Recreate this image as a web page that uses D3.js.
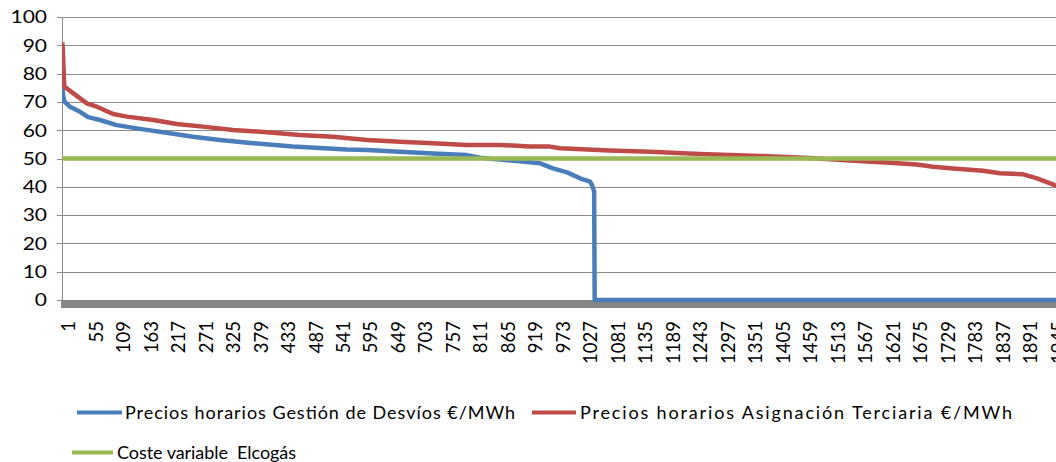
<!DOCTYPE html>
<html>
<head>
<meta charset="utf-8">
<script src="https://cdn.jsdelivr.net/npm/d3@7"></script>
<style>
  body { margin: 0; background: #ffffff; }
  svg { display: block; }
  text { font-family: Lato, "Open Sans", sans-serif; fill: #000; }
</style>
</head>
<body>
<svg id="chart" width="1056" height="462"></svg>
<script>
// Hourly price duration curves (hours ranked from highest to lowest price)
const hourCount = 1960;

// Precios horarios Gestión de Desvíos (€/MWh), by hour rank
const desviosRank  = [1, 3, 5, 16, 36, 52, 75, 108, 160, 206, 258, 311, 376, 454, 560, 600, 665, 729, 796, 822, 861, 900, 940, 965, 993, 1018, 1038, 1042, 1046, 1047, 1960];
const desviosPrice = [75.5, 72, 70.2, 68.3, 66.5, 64.6, 63.6, 61.8, 60.3, 59.1, 57.7, 56.5, 55.4, 54.2, 53.2, 53.0, 52.4, 51.8, 51.2, 50.3, 49.6, 49.0, 48.3, 46.5, 45.1, 43.0, 41.8, 40.5, 38.3, 0, 0];

// Precios horarios Asignación Terciaria (€/MWh), by hour rank
const terciariaRank  = [1, 2, 3, 5, 23, 49, 69, 101, 128, 180, 226, 291, 336, 403, 468, 533, 600, 665, 729, 796, 861, 920, 959, 979, 1077, 1156, 1254, 1372, 1470, 1549, 1627, 1680, 1712, 1751, 1810, 1843, 1889, 1916, 1942, 1960];
const terciariaPrice = [91, 89, 84, 75.4, 73.0, 69.5, 68.3, 65.7, 64.8, 63.6, 62.2, 61.0, 60.1, 59.3, 58.3, 57.7, 56.5, 55.9, 55.4, 54.8, 54.8, 54.2, 54.2, 53.6, 52.8, 52.4, 51.6, 50.9, 50.2, 49.3, 48.5, 47.9, 47.1, 46.5, 45.7, 44.8, 44.4, 43.0, 41.2, 40.0];

// Coste variable Elcogás (€/MWh), flat across all hours
const elcogasRank  = [1, 1960];
const elcogasPrice = [50, 50];

const yTicks = [0, 10, 20, 30, 40, 50, 60, 70, 80, 90, 100];
const xTickLabels = [1, 55, 109, 163, 217, 271, 325, 379, 433, 487, 541, 595, 649, 703, 757, 811, 865, 919, 973, 1027, 1081, 1135, 1189, 1243, 1297, 1351, 1405, 1459, 1513, 1567, 1621, 1675, 1729, 1783, 1837, 1891, 1945];

const seriesNames = [
  "Precios horarios Gestión de Desvíos €/MWh",
  "Precios horarios Asignación Terciaria €/MWh",
  "Coste variable  Elcogás"
];
const seriesColors = ["#4a7ebb", "#be4b48", "#98b954"];

const svg = d3.select("#chart");
const W = 1056, H = 462;
const plotLeft = 62, plotTop = 17, plotBottom = 300;
const pxPerHour = 0.509;

const x = d3.scaleLinear()
  .domain([0.5, hourCount + 0.5])
  .range([plotLeft, plotLeft + hourCount * pxPerHour]);
const y = d3.scaleLinear().domain([0, 100]).range([plotBottom, plotTop]);

// Horizontal gridlines
svg.append("g")
  .selectAll("line")
  .data(yTicks.filter(d => d > 0))
  .join("line")
  .attr("x1", plotLeft).attr("x2", W)
  .attr("y1", d => Math.round(y(d)) + 0.5)
  .attr("y2", d => Math.round(y(d)) + 0.5)
  .attr("stroke", "#8c8c8c").attr("stroke-width", 1);

// Vertical value axis with tick marks
svg.append("line")
  .attr("x1", plotLeft + 0.5).attr("x2", plotLeft + 0.5)
  .attr("y1", y(100)).attr("y2", plotBottom + 8)
  .attr("stroke", "#8c8c8c").attr("stroke-width", 1);
svg.append("g")
  .selectAll("line")
  .data(yTicks)
  .join("line")
  .attr("x1", plotLeft - 5).attr("x2", plotLeft)
  .attr("y1", d => Math.round(y(d)) + 0.5)
  .attr("y2", d => Math.round(y(d)) + 0.5)
  .attr("stroke", "#8c8c8c").attr("stroke-width", 1);

// Value labels
svg.append("g")
  .selectAll("text")
  .data(yTicks)
  .join("text")
  .attr("transform", d => `translate(47,${y(d)}) scale(1.2,1)`)
  .attr("dy", "0.36em")
  .attr("text-anchor", "end")
  .style("font-size", "17.5px")
  .text(d => d);

// Thick category axis along zero
svg.append("rect")
  .attr("x", plotLeft - 1).attr("y", y(0))
  .attr("width", W - plotLeft + 1).attr("height", 8)
  .attr("fill", "#868686");

// Category labels (hour rank), rotated
svg.append("g")
  .selectAll("text")
  .data(xTickLabels)
  .join("text")
  .attr("transform", d => `translate(${x(d) + 6.2},321) rotate(-90)`)
  .attr("dy", "0.36em")
  .attr("text-anchor", "end")
  .style("font-size", "18.5px")
  .text(d => d);

// Series lines, clipped to the plot area
svg.append("clipPath").attr("id", "plot-clip")
  .append("rect").attr("x", plotLeft).attr("y", 0)
  .attr("width", W - plotLeft).attr("height", plotBottom + 6);

const line = d3.line().x(d => x(d[0])).y(d => y(d[1]));
const series = [
  d3.zip(desviosRank, desviosPrice),
  d3.zip(terciariaRank, terciariaPrice),
  d3.zip(elcogasRank, elcogasPrice)
];
svg.append("g").attr("clip-path", "url(#plot-clip)")
  .selectAll("path")
  .data(series)
  .join("path")
  .attr("d", line)
  .attr("fill", "none")
  .attr("stroke", (d, i) => seriesColors[i])
  .attr("stroke-width", 4.5)
  .attr("stroke-linejoin", "round");

// Legend
const legendItems = [
  { x1: 77, x2: 122, tx: 125, y: 412.5, base: 419.3, len: 390 },
  { x1: 532, x2: 576, tx: 580, y: 412.5, base: 419.3, len: 432 },
  { x1: 72, x2: 113, tx: 117, y: 452.5, base: 459.3, len: 179 }
];
const legend = svg.append("g");
legendItems.forEach((it, i) => {
  legend.append("line")
    .attr("x1", it.x1).attr("x2", it.x2)
    .attr("y1", it.y).attr("y2", it.y)
    .attr("stroke", seriesColors[i]).attr("stroke-width", 4);
  legend.append("text")
    .attr("x", it.tx).attr("y", it.base)
    .attr("textLength", it.len).attr("lengthAdjust", "spacing")
    .style("font-size", "18px")
    .style("white-space", "pre")
    .text(seriesNames[i]);
});
</script>
</body>
</html>
